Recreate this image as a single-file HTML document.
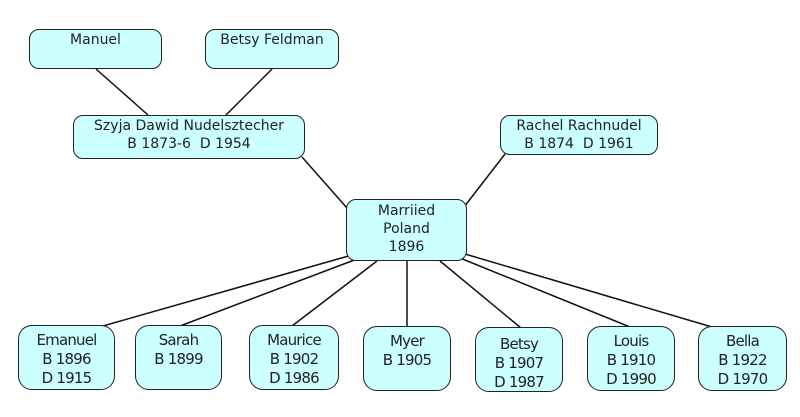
<!DOCTYPE html>
<html><head><style>
body{margin:0;background:#fff;width:800px;height:417px;overflow:hidden;position:relative;font-family:"DejaVu Sans","Liberation Sans",sans-serif;}
.b{position:absolute;box-sizing:border-box;background:#ccffff;border:1.5px solid #222;border-radius:10px;text-align:center;font-size:14px;line-height:18px;color:#222;padding-top:1px;}
.s{border-radius:14px;font-size:15px;line-height:19px;padding-top:5px;letter-spacing:-0.8px}
svg{position:absolute;left:0;top:0}
</style></head><body>
<svg width="800" height="417"><g stroke="#111" stroke-width="1.5">
<line x1="96" y1="69" x2="148" y2="115"/><line x1="272" y1="69" x2="226" y2="115"/>
<line x1="302" y1="157" x2="347" y2="208"/><line x1="505" y1="154" x2="464" y2="207"/>
<line x1="352" y1="255" x2="103" y2="326"/><line x1="357" y1="259" x2="180" y2="326"/>
<line x1="377" y1="261" x2="292" y2="326"/><line x1="407" y1="261" x2="407" y2="327"/>
<line x1="440" y1="261" x2="521" y2="328"/><line x1="460" y1="258" x2="630" y2="327"/>
<line x1="465" y1="254" x2="712" y2="327"/>
</g></svg>
<div class="b" style="left:29px;top:29px;width:133px;height:40px">Manuel</div>
<div class="b" style="left:205px;top:29px;width:134px;height:40px">Betsy Feldman</div>
<div class="b" style="left:73px;top:115px;width:232px;height:44px">Szyja Dawid Nudelsztecher<br>B 1873-6&nbsp; D 1954</div>
<div class="b" style="left:500px;top:115px;width:158px;height:40px">Rachel Rachnudel<br>B 1874&nbsp; D 1961</div>
<div class="b" style="left:346px;top:199px;width:121px;height:62px;padding-top:2px">Marriied<br>Poland<br>1896</div>
<div class="b s" style="left:18px;top:325px;width:97px;height:65px">Emanuel<br>B 1896<br>D 1915</div>
<div class="b s" style="left:135px;top:325px;width:87px;height:65px">Sarah<br>B 1899</div>
<div class="b s" style="left:249px;top:325px;width:90px;height:65px">Maurice<br>B 1902<br>D 1986</div>
<div class="b s" style="left:363px;top:326px;width:88px;height:65px">Myer<br>B 1905</div>
<div class="b s" style="left:475px;top:327px;width:88px;height:65px;padding-top:7px">Betsy<br>B 1907<br>D 1987</div>
<div class="b s" style="left:587px;top:326px;width:88px;height:65px">Louis<br>B 1910<br>D 1990</div>
<div class="b s" style="left:698px;top:326px;width:89px;height:65px">Bella<br>B 1922<br>D 1970</div>
</body></html>
